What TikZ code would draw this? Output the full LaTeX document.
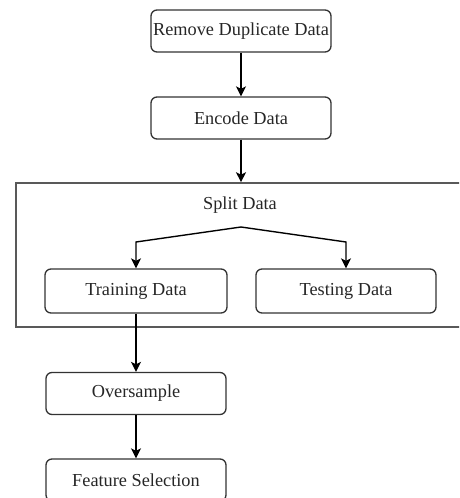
\documentclass[tikz,border=0pt]{standalone}
\usepackage{fontspec}
\setmainfont{Liberation Serif}
\usetikzlibrary{arrows.meta}
\begin{document}
\begin{tikzpicture}[x=1pt,y=-1pt,
  txt/.style={font=\fontsize{18.3}{21}\selectfont,text=black!85},
  proc/.style={txt,draw=black!80,line width=1.3pt,rounded corners=6pt,minimum width=180pt,minimum height=42pt,inner sep=0pt},
  frame/.style={draw=black!65,line width=1.6pt,minimum width=470pt,minimum height=144pt,inner sep=0pt},
  conn/.style={line width=1.4pt,-{Stealth[length=10pt,width=10pt,inset=2.5pt]}}]
\useasboundingbox (0,0) rectangle (459,498);
\clip (0,0) rectangle (459,498);
\node[proc] (rem) at (241,31) {Remove Duplicate Data};
\node[proc] (enc) at (241,118) {Encode Data};
\node[frame] (split) at (251,255) {};
\node[txt] (splt) at (240,205) {Split Data};
\coordinate (fork) at (241,227);
\node[proc,minimum width=182pt,minimum height=44pt] (train) at (136,291) {Training Data};
\node[proc,minimum width=180pt,minimum height=44pt] (test) at (346,291) {Testing Data};
\node[proc] (over) at (136,393.5) {Oversample};
\node[proc] (feat) at (136,480) {Feature Selection};
\draw[conn] (rem) -- (enc);
\draw[conn] (enc.south) -- (enc.south |- split.north);
\draw[conn] (fork) -- (train.north |- 0,242) -- (train.north);
\draw[conn] (fork) -- (test.north |- 0,242) -- (test.north);
\draw[conn] (train) -- (over);
\draw[conn] (over) -- (feat);
\end{tikzpicture}
\end{document}
